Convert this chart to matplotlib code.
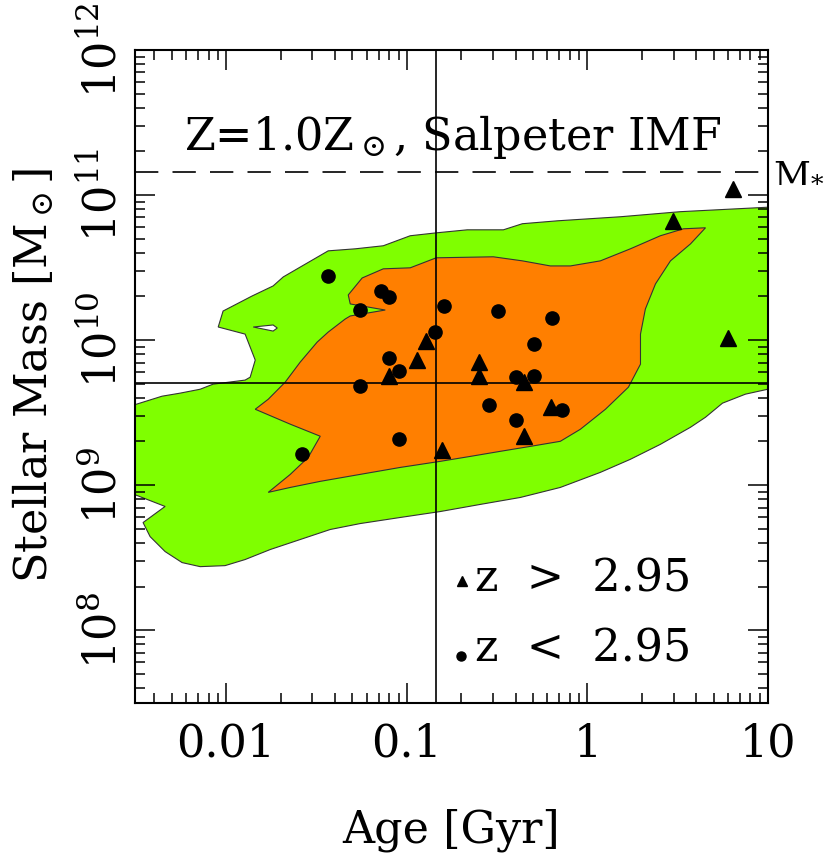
import numpy as np
import matplotlib.pyplot as plt

plt.rcParams['font.family'] = 'DejaVu Serif'
plt.rcParams['mathtext.fontset'] = 'dejavuserif'

# galaxies at z > 2.95 (triangles)
tri_age = [6.44, 2.99, 5.97, 0.128, 0.114, 0.080, 0.252, 0.252, 0.448, 0.632, 0.448, 0.157]
tri_mass = [1.10e11, 6.61e10, 1.04e10, 9.8e9, 7.24e9, 5.61e9, 7.02e9, 5.61e9, 5.11e9, 3.48e9, 2.19e9, 1.76e9]

# galaxies at z < 2.95 (circles)
circ_age = [0.0367, 0.0723, 0.080, 0.0552, 0.161, 0.321, 0.640, 0.144, 0.080, 0.0908,
            0.508, 0.0552, 0.404, 0.508, 0.286, 0.404, 0.726, 0.0908, 0.0264]
circ_mass = [2.75e10, 2.17e10, 1.97e10, 1.60e10, 1.71e10, 1.58e10, 1.43e10, 1.13e10, 7.48e9, 6.08e9,
             9.34e9, 4.79e9, 5.53e9, 5.61e9, 3.59e9, 2.83e9, 3.27e9, 2.09e9, 1.65e9]

# median age / mass and characteristic mass
age_med = 0.146
mass_med = 5.05e9
m_star = 1.44e11

# outer (green) confidence region, log10 Age [Gyr], log10 M
green_logage = [-2.55, -2.355, -2.255, -2.144, -2.072, -1.895, -1.867, -1.839, -1.895, -2.044,
                -2.017, -1.856, -1.740, -1.684, -1.579, -1.435, -1.285, -1.130, -0.981, -0.837,
                -0.665, -0.465, -0.360, -0.166, 0.183, 0.515, 1.05, 1.05, 0.875, 0.748,
                0.654, 0.571, 0.404, 0.238, 0.072, -0.150, -0.371, -0.593, -0.814, -1.036,
                -1.258, -1.424, -1.590, -1.756, -1.895, -2.006, -2.144, -2.244, -2.338, -2.421,
                -2.460, -2.338, -2.55]
green_logmass = [9.537, 9.613, 9.634, 9.661, 9.696, 9.724, 9.744, 9.862, 10.041, 10.090,
                 10.200, 10.304, 10.373, 10.435, 10.511, 10.615, 10.629, 10.650, 10.719, 10.739,
                 10.760, 10.760, 10.802, 10.822, 10.850, 10.885, 10.919, 9.675, 9.627, 9.565,
                 9.468, 9.399, 9.281, 9.178, 9.088, 8.984, 8.915, 8.867, 8.818, 8.777,
                 8.735, 8.694, 8.625, 8.556, 8.487, 8.445, 8.438, 8.466, 8.542, 8.645,
                 8.742, 8.853, 8.956]

# small hole in the outer region
hole_logage = [-1.850, -1.740, -1.717, -1.740]
hole_logmass = [10.090, 10.104, 10.083, 10.062]

# inner (orange) confidence region
orange_logage = [-1.324, -1.247, -1.130, -0.981, -0.837, -0.521, -0.360, -0.205, -0.094, 0.072,
                 0.238, 0.404, 0.532, 0.654, 0.571, 0.460, 0.377, 0.321, 0.294, 0.294,
                 0.227, 0.100, -0.039, -0.150, -0.316, -0.482, -0.648, -0.814, -1.036, -1.258,
                 -1.479, -1.645, -1.767, -1.645, -1.546, -1.479, -1.645, -1.839, -1.767, -1.712,
                 -1.673, -1.590, -1.496, -1.435, -1.341, -1.313, -1.119, -1.313]
orange_logmass = [10.311, 10.428, 10.491, 10.498, 10.567, 10.574, 10.546, 10.511, 10.511, 10.546,
                  10.629, 10.719, 10.767, 10.774, 10.663, 10.546, 10.387, 10.214, 10.041, 9.834,
                  9.675, 9.523, 9.385, 9.302, 9.267, 9.233, 9.198, 9.164, 9.122, 9.074,
                  9.026, 8.984, 8.950, 9.074, 9.191, 9.337, 9.420, 9.523, 9.592, 9.661,
                  9.710, 9.848, 9.986, 10.055, 10.145, 10.166, 10.207, 10.249]

fig = plt.figure(figsize=(8.3, 8.58), dpi=100)
ax = fig.add_axes([0.1627, 0.1807, 0.7626, 0.7611])

edge = '#333333'
ax.fill(10**np.array(green_logage), 10**np.array(green_logmass), color='#7fff00', ec=edge, lw=0.8, zorder=1)
ax.fill(10**np.array(hole_logage), 10**np.array(hole_logmass), color='white', ec=edge, lw=0.8, zorder=1.5)
ax.fill(10**np.array(orange_logage), 10**np.array(orange_logmass), color='#ff7f00', ec=edge, lw=0.8, zorder=2)

ax.axvline(age_med, color='black', lw=1.2, zorder=3)
ax.axhline(mass_med, color='black', lw=1.2, zorder=3)
ax.axhline(m_star, color='black', lw=1.2, dashes=[14, 8.5], zorder=3)

ax.plot(tri_age, tri_mass, '^', color='black', ms=12, zorder=4, clip_on=False)
ax.plot(circ_age, circ_mass, 'o', color='black', ms=9.5, zorder=4)

ax.set_xscale('log')
ax.set_yscale('log')
ax.set_xlim(0.00313, 10.0)
ax.set_ylim(3.15e7, 1.0e12)

ax.set_xticks([0.01, 0.1, 1, 10])
ax.set_xticklabels(['0.01', '0.1', '1', '10'])
ax.set_yticks([1e8, 1e9, 1e10, 1e11, 1e12])
ax.set_yticklabels(['$10^{8}$', '$10^{9}$', '$10^{10}$', '$10^{11}$', '$10^{12}$'])

ax.tick_params(which='both', direction='in', top=True, right=True, width=1.1, labelsize=32)
ax.tick_params(which='major', length=14.5)
ax.tick_params(which='minor', length=7.2)
ax.tick_params(axis='x', pad=14)
ax.tick_params(axis='y', pad=7, labelrotation=90)
for lab in ax.get_yticklabels():
    lab.set_va('center')
for sp in ax.spines.values():
    sp.set_linewidth(1.5)

ax.text(0.502, 0.847, r'Z=1.0Z$_\odot$, Salpeter IMF', transform=ax.transAxes,
        ha='center', va='baseline', fontsize=32)
ax.text(1.008, m_star, r'M$_{*}$', transform=ax.get_yaxis_transform(),
        ha='left', va='center', fontsize=26)

# legend
ax.plot([0.517], [0.186], '^', color='black', ms=7.5, transform=ax.transAxes, clip_on=False)
ax.plot([0.515], [0.072], 'o', color='black', ms=6.5, transform=ax.transAxes, clip_on=False)
ax.text(0.537, 0.17, 'z  >  2.95', transform=ax.transAxes, ha='left', va='baseline', fontsize=32)
ax.text(0.537, 0.063, 'z  <  2.95', transform=ax.transAxes, ha='left', va='baseline', fontsize=32)

fig.text(0.543, 0.0175, 'Age [Gyr]', ha='center', va='baseline', fontsize=32)
fig.text(0.040, 0.5618, r'Stellar Mass [M$_\odot$]', ha='center', va='center', rotation=90, fontsize=32)

fig.savefig('out.png', dpi=100)
